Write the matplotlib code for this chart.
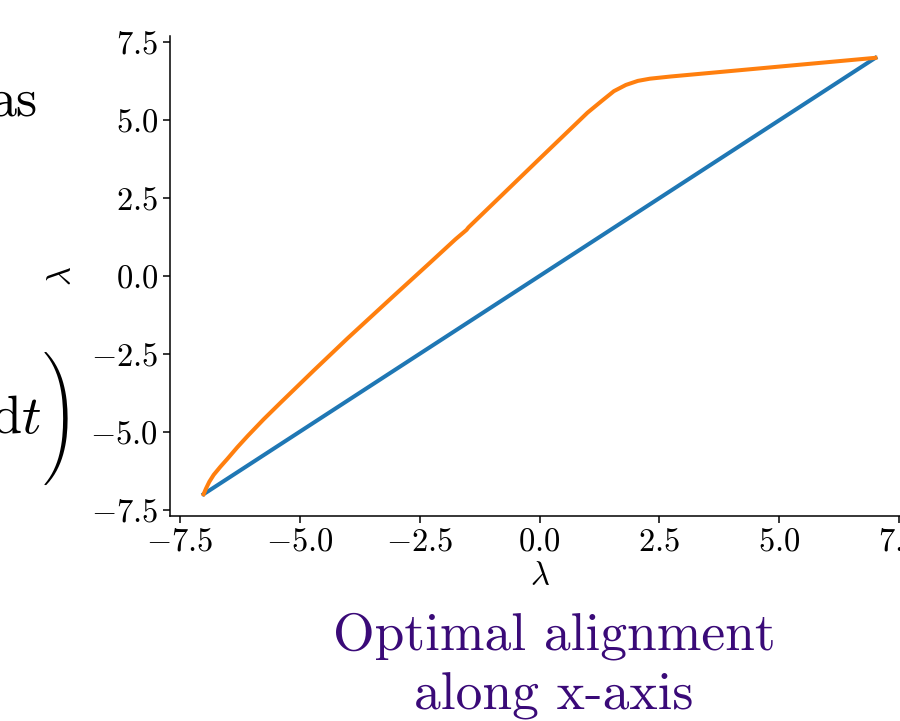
import matplotlib
matplotlib.use("Agg")
import matplotlib.pyplot as plt

plt.rcParams["font.family"] = "serif"
plt.rcParams["font.serif"] = ["cmr10"]
plt.rcParams["mathtext.fontset"] = "cm"
plt.rcParams["axes.formatter.use_mathtext"] = True

# identity alignment (blue) and optimal alignment (orange)
blue_x = [-7.0, 7.0]
blue_y = [-7.0, 7.0]

orange_x = [-7.0, -6.95, -6.88, -6.79, -6.65, -6.5, -6.3, -6.08, -5.75, -5.4,
            -4.71, -4.0, -3.04, -2.3, -1.75, -1.52, -1.48, -0.8, 0.0, 0.5,
            1.0, 1.3, 1.55, 1.8, 2.05, 2.3, 2.73, 7.0]
orange_y = [-7.0, -6.82, -6.6, -6.38, -6.12, -5.86, -5.5, -5.13, -4.6, -4.07,
            -3.04, -2.0, -0.64, 0.40, 1.18, 1.48, 1.56, 2.57, 3.76, 4.50,
            5.24, 5.62, 5.93, 6.13, 6.26, 6.33, 6.40, 7.0]

title_lines = ["Optimal alignment", "along x-axis"]
title_color = "#3a0a78"

fig = plt.figure(figsize=(9.0, 7.21), dpi=100)
ax = fig.add_axes([170 / 900, 205 / 721, 739 / 900, 480 / 721])

ax.plot(blue_x, blue_y, color="tab:blue", lw=2.9)
ax.plot(orange_x, orange_y, color="tab:orange", lw=2.9)

ax.set_xticks([-7.5, -5.0, -2.5, 0.0, 2.5, 5.0, 7.5])
ax.set_yticks([-7.5, -5.0, -2.5, 0.0, 2.5, 5.0, 7.5])
ax.set_xlim(-7.7, 7.7)
ax.set_ylim(-7.7, 7.7)
ax.spines["top"].set_visible(False)
ax.spines["right"].set_visible(False)
for s in ("left", "bottom"):
    ax.spines[s].set_linewidth(1.1)
ax.tick_params(labelsize=23.5, length=5, width=1.1)
ax.set_xlabel(r"$\lambda$", fontsize=23.5, labelpad=4)
ax.set_ylabel(r"$\lambda$", fontsize=23.5, labelpad=10)

# bits of the slide text to the left of the plot
fig.text(38 / 900, 1 - 116 / 721, "as", fontsize=39, ha="right", va="baseline")
fig.text(41 / 900, 1 - 433 / 721, r"$\mathrm{d}t$", fontsize=39, ha="right",
         va="baseline")
# "!" in cmex10 is the largest right parenthesis glyph
fig.text(60 / 900, 1 - 418 / 721, "!", family="cmex10", fontsize=32,
         ha="center", va="center")

for line, base_px in zip(title_lines, [649, 710]):
    fig.text(554 / 900, 1 - base_px / 721, line, fontsize=38.5,
             color=title_color, ha="center", va="baseline")

fig.savefig("out.png", dpi=100)
